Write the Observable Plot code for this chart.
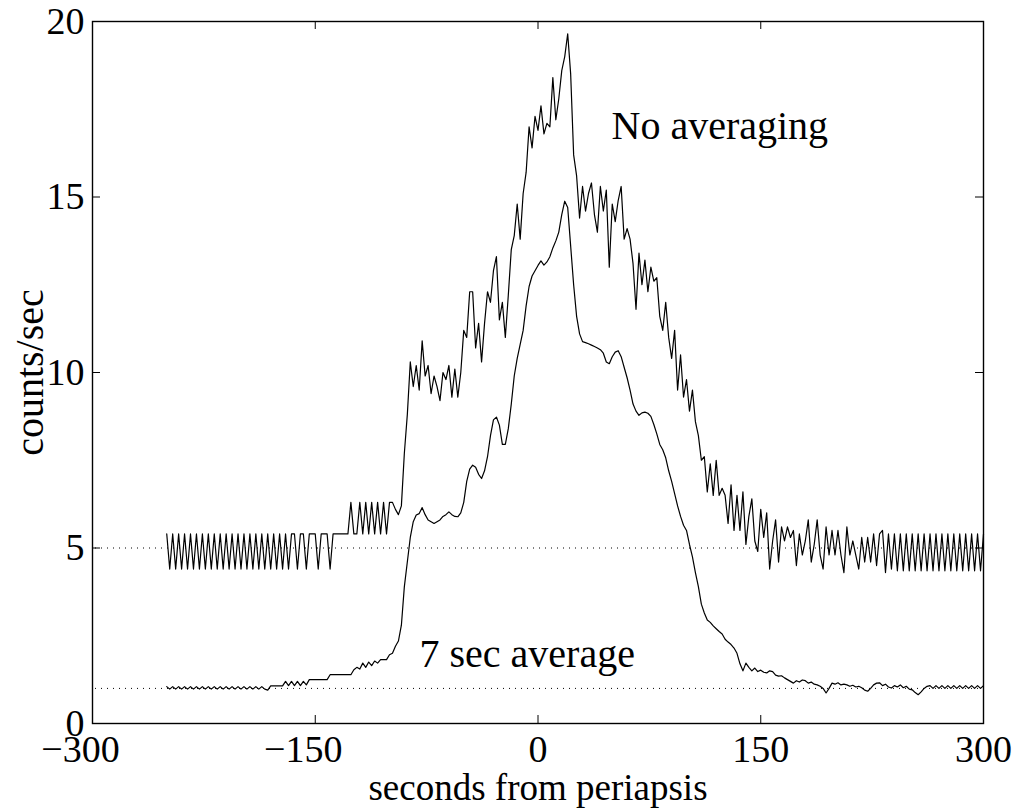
<!DOCTYPE html>
<html>
<head>
<meta charset="utf-8">
<script src="https://cdn.jsdelivr.net/npm/d3@7"></script>
<script src="https://cdn.jsdelivr.net/npm/@observablehq/plot@0.6"></script>
<style>
  html, body { margin: 0; padding: 0; background: #fff; }
  #chart { width: 1018px; height: 808px; }
  #chart svg, #chart svg text { font-family: "Liberation Serif", "Times New Roman", "DejaVu Serif", serif !important; }
</style>
</head>
<body>
<div id="chart"></div>
<script>
// ---- data ----
// samples every 2 s from -250 s to +300 s
const tStart = -250;
const tStep = 2;

// "No averaging" counts/sec
const rawCounts = [
  5.4,4.4,5.4,4.4,5.4,4.4,5.4,4.4,5.4,4.4,
  5.4,4.4,5.4,4.4,5.4,4.4,5.4,4.4,5.4,4.4,
  5.4,4.4,5.4,4.4,5.4,4.4,5.4,4.4,5.4,4.4,
  5.4,4.4,5.4,4.4,5.4,4.4,5.4,4.4,5.4,4.4,
  5.4,4.4,5.4,5.4,4.4,5.4,5.4,4.4,5.4,5.4,
  5.4,4.4,5.4,5.4,5.4,4.4,5.4,5.4,5.4,5.4,
  5.4,5.4,6.3,5.4,5.4,6.3,5.4,6.3,5.4,6.3,
  5.4,6.3,5.4,6.3,5.4,6.3,6.3,6.1,5.95,6.2,
  7.7,8.8,10.3,9.6,10.2,9.5,10.9,9.9,10.2,9.4,
  9.9,9.6,9.2,10.0,9.8,10.2,9.3,10.1,9.3,10.0,
  11.2,11.0,12.3,12.3,10.7,11.4,10.3,11.4,12.3,12.0,
  12.9,13.3,11.5,12.0,11.0,12.2,13.5,13.9,14.8,13.8,
  15.1,15.7,17.0,16.4,17.3,16.9,17.6,16.8,17.1,17.0,
  18.4,17.2,17.8,18.6,19.0,19.65,18.5,16.2,15.6,14.4,
  15.3,14.6,15.1,15.4,14.5,14.0,15.3,14.6,15.2,13.0,
  14.8,14.3,14.9,15.3,13.8,14.1,13.8,13.1,11.8,13.4,
  12.5,13.2,12.3,13.0,12.6,12.7,11.6,11.2,12.0,11.0,
  10.4,11.2,9.5,10.5,9.3,9.8,8.9,9.5,8.6,8.2,
  7.5,7.6,6.6,7.4,6.5,7.5,6.5,6.7,6.5,5.7,
  6.8,5.5,6.5,5.5,6.6,5.1,5.9,6.4,5.2,4.9,
  6.1,5.3,6.0,4.4,5.2,5.8,4.6,5.6,5.2,5.6,
  5.3,5.5,4.5,5.4,4.8,5.2,5.8,4.6,5.1,5.8,
  4.8,4.4,5.6,4.8,5.5,4.8,5.5,4.8,4.3,5.6,
  4.8,5.2,4.8,4.4,5.3,4.6,5.3,4.6,5.4,4.5,
  5.4,5.5,4.3,5.4,4.4,5.4,4.35,5.4,4.35,5.4,
  4.35,5.4,4.35,5.4,4.35,5.4,4.35,5.4,4.35,5.4,
  4.35,5.4,4.35,5.4,4.35,5.4,4.35,5.4,4.35,5.4,
  4.35,5.4,4.35,5.4,4.35,5.4
];

// "7 sec average" counts/sec
const avgCounts = [
  1.05,0.98,1.05,0.98,1.05,0.98,1.05,0.98,1.05,0.98,
  1.05,0.98,1.05,0.98,1.05,0.98,1.05,0.98,1.05,0.98,
  1.05,0.98,1.05,0.98,1.05,0.98,1.05,0.98,1.05,0.98,
  1.05,0.98,1.05,0.98,0.95,1.07,1.07,1.07,1.07,1.07,
  1.2,1.08,1.2,1.08,1.2,1.08,1.2,1.1,1.25,1.25,
  1.25,1.25,1.25,1.25,1.25,1.39,1.39,1.39,1.39,1.39,
  1.39,1.39,1.39,1.53,1.6,1.55,1.72,1.6,1.75,1.65,
  1.78,1.72,1.82,1.82,1.82,1.96,2.0,2.2,2.35,2.8,
  3.9,4.6,5.3,5.75,5.94,5.98,6.15,5.95,5.8,5.75,
  5.7,5.75,5.8,5.9,5.95,6.03,5.95,5.9,5.89,6.0,
  6.3,6.9,7.25,7.36,7.3,7.1,6.98,7.2,7.6,8.2,
  8.65,8.73,8.5,7.95,7.95,8.4,9.1,9.9,10.4,10.8,
  11.2,11.9,12.45,12.75,12.9,13.05,13.18,13.06,13.15,13.3,
  13.55,13.75,14.0,14.5,14.88,14.7,13.6,12.5,11.6,11.1,
  10.88,10.85,10.82,10.78,10.74,10.7,10.65,10.55,10.3,10.25,
  10.45,10.58,10.62,10.45,10.15,9.85,9.5,9.1,8.9,8.78,
  8.85,8.87,8.84,8.75,8.52,8.25,7.95,7.8,7.57,7.2,
  6.9,6.55,6.2,5.9,5.65,5.5,5.1,4.75,4.3,3.9,
  3.4,3.15,2.95,2.88,2.78,2.7,2.62,2.55,2.4,2.32,
  2.25,2.15,2.0,1.7,1.5,1.72,1.6,1.5,1.58,1.48,
  1.52,1.46,1.44,1.5,1.48,1.38,1.35,1.36,1.3,1.25,
  1.2,1.15,1.22,1.18,1.24,1.22,1.15,1.18,1.12,1.1,
  1.06,1.0,0.87,1.0,1.15,1.12,1.16,1.1,1.12,1.1,
  1.06,1.09,1.04,1.06,1.02,0.95,0.92,1.0,1.1,1.15,
  1.16,1.08,1.12,1.04,1.01,1.08,1.04,1.1,1.02,1.06,
  0.98,0.96,0.88,0.82,0.9,1.0,1.06,1.08,1.0,1.08,
  1.0,1.08,1.0,1.08,1.0,1.08,1.0,1.08,1.0,1.08,
  1.0,1.08,1.0,1.08,1.0,1.08
];

// reference (dotted) levels
const refLevels = [5, 1];

// axis ticks
const xTicks = [-300, -150, 0, 150, 300];
const yTicks = [0, 5, 10, 15, 20];

// labels
const xLabel = "seconds from periapsis";
const yLabel = "counts/sec";
const annotations = [
  {text: "No averaging", t: 49.5, v: 16.65},
  {text: "7 sec average", t: -79.8, v: 1.62}
];

// ---- build ----
if (rawCounts.length !== avgCounts.length) throw new Error("length mismatch " + rawCounts.length + " " + avgCounts.length);
const rawData = rawCounts.map((v, i) => ({t: tStart + i * tStep, v}));
const avgData = avgCounts.map((v, i) => ({t: tStart + i * tStep, v}));

const W = 1018, H = 808;
const mL = 92, mR = 35, mT = 21, mB = 85;
const plotW = W - mL - mR, plotH = H - mT - mB;
const tickLen = 8;
const FS = 38;      // tick labels
const FX = 37;      // x axis label
const FL = 40;      // y axis label and annotations
const FONT = "'Liberation Serif', 'Times New Roman', serif";
const fmt = d3.format("d");

const chart = Plot.plot({
  width: W,
  height: H,
  marginLeft: mL,
  marginRight: mR,
  marginTop: mT,
  marginBottom: mB,
  style: {fontFamily: FONT, background: "#fff", color: "#000"},
  x: {domain: [-300, 300]},
  y: {domain: [0, 20]},
  marks: [
    Plot.ruleY(refLevels, {y: d => d, stroke: "#000", strokeWidth: 1, strokeDasharray: "1,5", insetLeft: 3}),
    Plot.line(rawData, {x: "t", y: "v", stroke: "#000", strokeWidth: 1.2}),
    Plot.line(avgData, {x: "t", y: "v", stroke: "#000", strokeWidth: 1.2}),
    // inward ticks on all four sides
    Plot.ruleX(xTicks, {x: d => d, stroke: "#000", insetTop: plotH - tickLen}),
    Plot.ruleX(xTicks, {x: d => d, stroke: "#000", insetBottom: plotH - tickLen}),
    Plot.ruleY(yTicks, {y: d => d, stroke: "#000", insetRight: plotW - tickLen}),
    Plot.ruleY(yTicks, {y: d => d, stroke: "#000", insetLeft: plotW - tickLen}),
    Plot.frame({stroke: "#000", strokeWidth: 1.4}),
    Plot.axisX({ticks: xTicks.filter(d => d >= 0), tickSize: 0, tickPadding: 12, fontSize: FS, fontFamily: FONT, tickFormat: fmt, label: null}),
    Plot.axisX({ticks: xTicks.filter(d => d < 0), tickSize: 0, tickPadding: 12, fontSize: FS, fontFamily: FONT, tickFormat: fmt, label: null, dx: -12}),
    Plot.axisY({ticks: yTicks, tickSize: 0, tickPadding: 8, fontSize: FS, fontFamily: FONT, tickFormat: fmt, label: null}),
    Plot.text([xLabel], {text: d => d, frameAnchor: "bottom", textAnchor: "middle", lineAnchor: "bottom", dy: 76, fontSize: FX, fontFamily: FONT, fill: "#000"}),
    Plot.text([yLabel], {text: d => d, frameAnchor: "left", textAnchor: "middle", rotate: -90, lineAnchor: "middle", dx: -62, fontSize: FL, fontFamily: FONT, fill: "#000"}),
    Plot.text(annotations, {x: "t", y: "v", text: "text", textAnchor: "start", lineAnchor: "bottom", fontSize: FL, fontFamily: FONT, fill: "#000"})
  ]
});
document.getElementById("chart").appendChild(chart);
</script>
</body>
</html>
